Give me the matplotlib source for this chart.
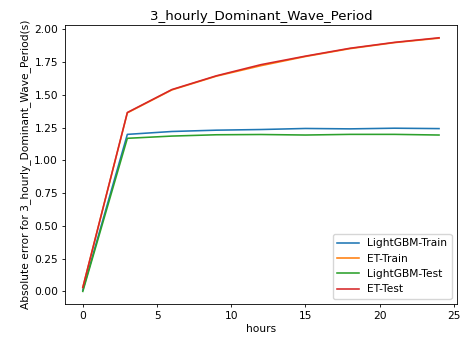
import matplotlib
matplotlib.use("Agg")
import matplotlib.pyplot as plt

hours = [0, 3, 6, 9, 12, 15, 18, 21, 24]
lgbm_train = [0.01, 1.198, 1.220, 1.230, 1.235, 1.243, 1.240, 1.245, 1.242]
et_train = [0.03, 1.362, 1.537, 1.642, 1.722, 1.792, 1.852, 1.898, 1.932]
lgbm_test = [0.0, 1.168, 1.185, 1.195, 1.197, 1.193, 1.198, 1.198, 1.193]
et_test = [0.03, 1.365, 1.540, 1.645, 1.730, 1.795, 1.855, 1.900, 1.935]

plt.rcParams.update({
    "font.size": 7.7,
    "axes.titlesize": 9.6,
    "lines.linewidth": 1.15,
    "axes.linewidth": 0.6,
    "xtick.major.size": 2.5,
    "ytick.major.size": 2.5,
    "xtick.major.width": 0.6,
    "ytick.major.width": 0.6,
    "xtick.major.pad": 2.5,
    "ytick.major.pad": 2.5,
})

fig = plt.figure(figsize=(4.61, 3.39), dpi=100)
ax = fig.add_axes([0.141, 0.103, 0.850, 0.823])
ax.plot(hours, lgbm_train, label="LightGBM-Train")
ax.plot(hours, et_train, label="ET-Train")
ax.plot(hours, lgbm_test, label="LightGBM-Test")
ax.plot(hours, et_test, label="ET-Test")
ax.set_title("3_hourly_Dominant_Wave_Period", pad=4)
ax.set_xlabel("hours", labelpad=2)
ax.set_ylabel("Absolute error for 3_hourly_Dominant_Wave_Period(s)", labelpad=2)
ax.legend(loc="lower right")
fig.savefig("out.png", dpi=100)
